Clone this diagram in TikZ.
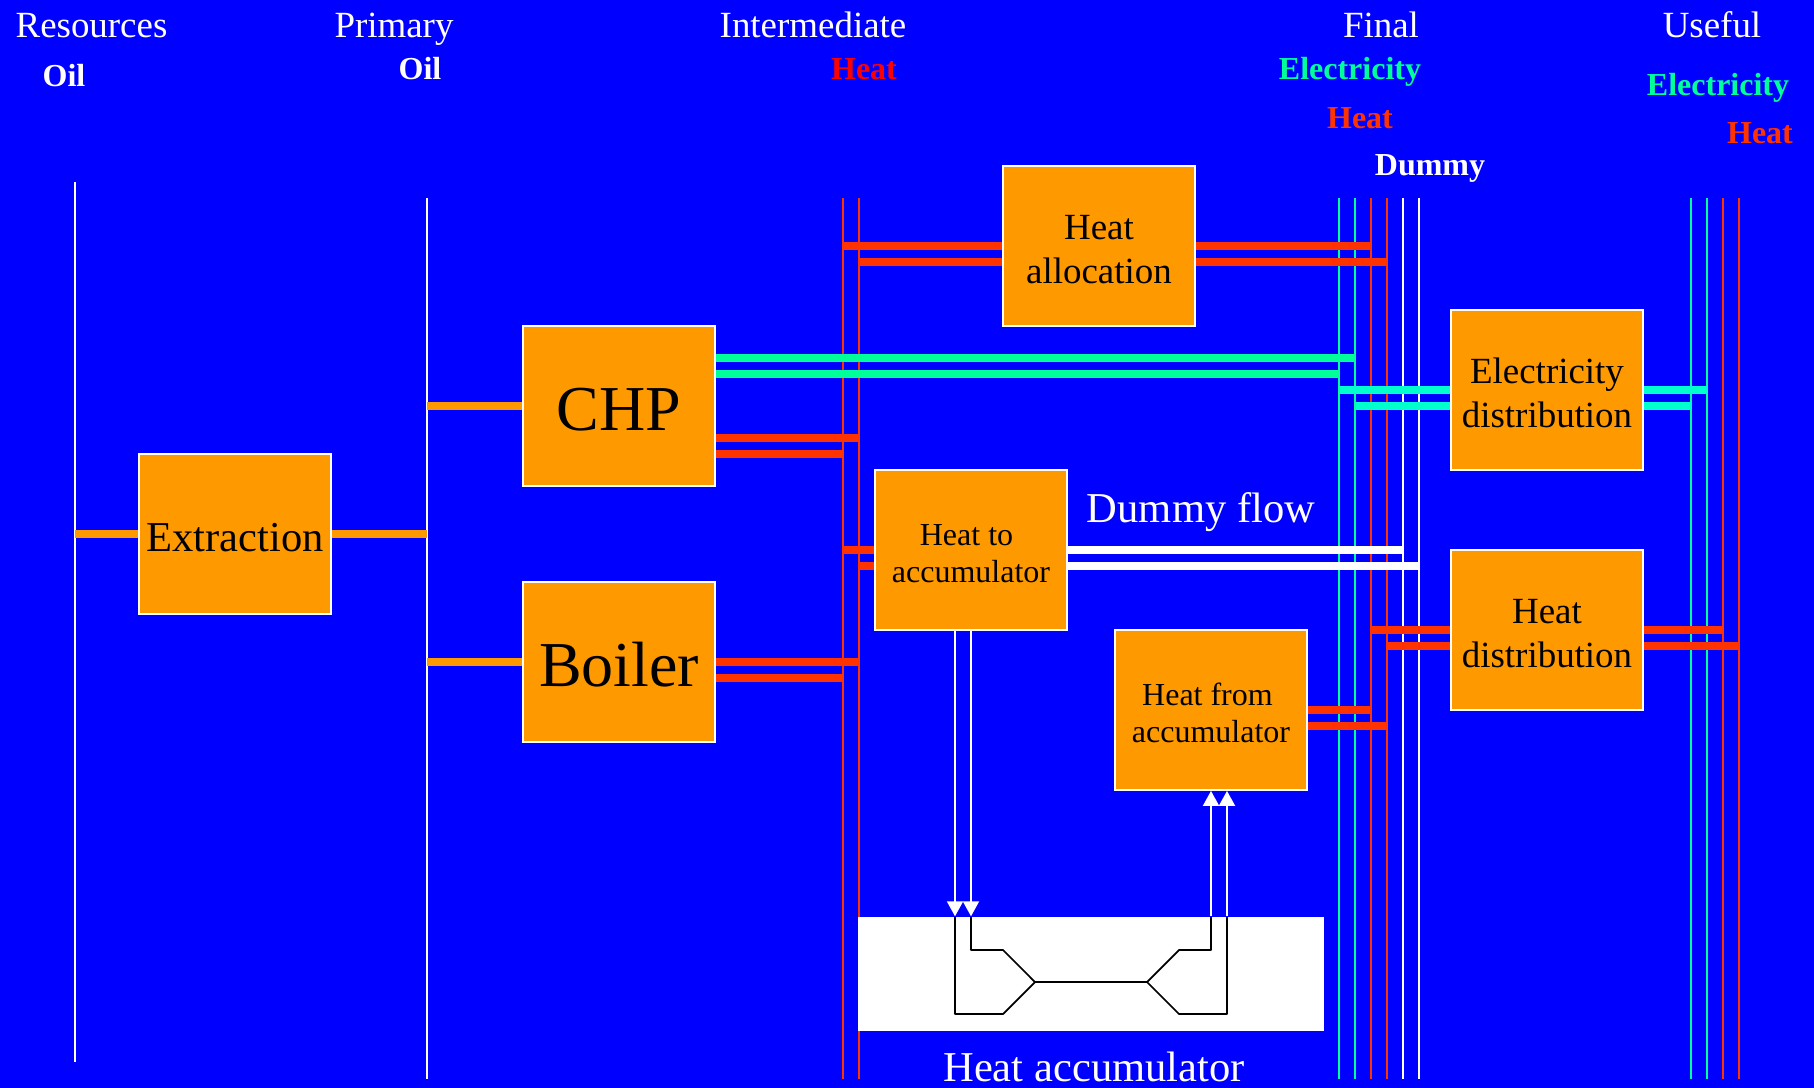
\documentclass[tikz,border=0pt]{standalone}
\usepackage{fontspec}
\setmainfont{Liberation Serif}
\usetikzlibrary{arrows.meta, positioning}
\definecolor{slideblue}{RGB}{0, 0, 255}
\definecolor{boxorange}{RGB}{255, 153, 0}
\definecolor{heatred}{RGB}{255, 51, 0}
\definecolor{elecgreen}{RGB}{0, 255, 153}
\definecolor{eleccyan}{RGB}{0, 255, 204}
\newcommand{\fsize}[2]{\fontsize{#1}{#2}\selectfont}
\newcommand{\topgap}{\rule{0pt}{\dimexpr.68em+1.7pt\relax}}
\tikzset{
  procbox/.style={draw=white, fill=boxorange, line width=0.5pt, text=black,
    minimum width=1.92cm, minimum height=1.6cm, inner sep=0pt, align=center,
    font=\fsize{10.5}{12.5}},
  smallbox/.style={procbox, font=\fsize{9.1}{10.5}},
  headlabel/.style={text=white, inner sep=0pt, anchor=base, font=\fsize{10.5}{12.5}},
  carrier/.style={inner sep=0pt, anchor=base, font=\fsize{9.1}{10.5}\bfseries},
  bigtext/.style={text=white, inner sep=0pt, anchor=base, font=\fsize{12.1}{14}},
  busline/.style={line width=0.55pt},
  flowline/.style={line width=2.3pt},
  storeline/.style={white, line width=0.55pt},
}
\begin{document}
\begin{tikzpicture}[x=0.01cm, y=-0.01cm]
  \useasboundingbox (0,0) rectangle (1814,1087);
  \fill[slideblue] (-10,-10) rectangle (1824,1097);
  %---- Carrier lines ---------------------------------------------------------
  \coordinate (resoil) at (75,182);
  \coordinate (primoil) at (427,198);
  \coordinate (interA) at (843,198);
  \coordinate (interB) at (859,198);
  \coordinate (finelA) at (1339,198);
  \coordinate (finelB) at (1355,198);
  \coordinate (finhtA) at (1371,198);
  \coordinate (finhtB) at (1387,198);
  \coordinate (findmA) at (1403,198);
  \coordinate (findmB) at (1419,198);
  \coordinate (useelA) at (1691,198);
  \coordinate (useelB) at (1707,198);
  \coordinate (usehtA) at (1723,198);
  \coordinate (usehtB) at (1739,198);
  \draw[busline, white] (resoil) -- (75,1062);
  \draw[busline, white] (primoil) -- (427,1079);
  \draw[busline, heatred] (interA) -- (843,1079);
  \draw[busline, heatred] (interB) -- (859,1079);
  \draw[busline, elecgreen] (finelA) -- (1339,1079);
  \draw[busline, elecgreen] (finelB) -- (1355,1079);
  \draw[busline, heatred] (finhtA) -- (1371,1079);
  \draw[busline, heatred] (finhtB) -- (1387,1079);
  \draw[busline, white] (findmA) -- (1403,1079);
  \draw[busline, white] (findmB) -- (1419,1079);
  \draw[busline, elecgreen] (useelA) -- (1691,1079);
  \draw[busline, elecgreen] (useelB) -- (1707,1079);
  \draw[busline, heatred] (usehtA) -- (1723,1079);
  \draw[busline, heatred] (usehtB) -- (1739,1079);
  %---- Process boxes ---------------------------------------------------------
  \node[procbox, font=\fsize{12.1}{14}] (extract) at (235,534) {\topgap Extraction};
  \node[procbox, font=\fsize{18.2}{21}] (chp) at (619,406) {\topgap CHP};
  \node[procbox, font=\fsize{18.2}{21}] (boiler) at (619,662) {\topgap Boiler};
  \node[procbox] (alloc) at (1099,246) {\topgap Heat\\allocation};
  \node[smallbox] (toacc) at (971,550) {\topgap Heat to\hspace*{0.09cm}\\accumulator};
  \node[smallbox] (fromacc) at (1211,710) {\topgap Heat from\hspace*{0.07cm}\\accumulator};
  \node[procbox] (eldist) at (1547,390) {\topgap Electricity\\distribution};
  \node[procbox] (htdist) at (1547,630) {\topgap Heat\\distribution};
  %---- Heat accumulator ------------------------------------------------------
  \node[fill=white, minimum width=4.66cm, minimum height=1.14cm, inner sep=0pt]
    (accum) at (1091,974) {};
  \draw[black, line width=0.5pt, line join=round]
    (955,917)--(955,1014)--(1003,1014)--(1035,982)--(1147,982)
    --(1179,1014)--(1227,1014)--(1227,917);
  \draw[black, line width=0.5pt, line join=round]
    (971,917)--(971,950)--(1003,950)--(1035,982);
  \draw[black, line width=0.5pt, line join=round]
    (1147,982)--(1179,950)--(1211,950)--(1211,917);
  \draw[storeline, -{Triangle[length=0.15cm,width=0.16cm]}]
    (955,0 |- toacc.south) -- (955,0 |- accum.north);
  \draw[storeline, -{Triangle[length=0.15cm,width=0.16cm]}]
    (971,0 |- toacc.south) -- (971,0 |- accum.north);
  \draw[storeline, -{Triangle[length=0.15cm,width=0.16cm]}]
    (1211,0 |- accum.north) -- (1211,0 |- fromacc.south);
  \draw[storeline, -{Triangle[length=0.15cm,width=0.16cm]}]
    (1227,0 |- accum.north) -- (1227,0 |- fromacc.south);
  %---- Oil flows -------------------------------------------------------------
  \draw[flowline, boxorange] (resoil |- extract.west) -- (extract.west);
  \draw[flowline, boxorange] (extract.east) -- (primoil |- extract.east);
  \draw[flowline, boxorange] (primoil |- chp.west) -- (chp.west);
  \draw[flowline, boxorange] (primoil |- boiler.west) -- (boiler.west);
  %---- Heat flows ------------------------------------------------------------
  \draw[flowline, heatred] (chp.east |- 0,438) -- (interB |- 0,438);
  \draw[flowline, heatred] (chp.east |- 0,454) -- (interA |- 0,454);
  \draw[flowline, heatred] (boiler.east |- 0,662) -- (interB |- 0,662);
  \draw[flowline, heatred] (boiler.east |- 0,678) -- (interA |- 0,678);
  \draw[flowline, heatred] (interA |- 0,246) -- (alloc.west |- 0,246);
  \draw[flowline, heatred] (interB |- 0,262) -- (alloc.west |- 0,262);
  \draw[flowline, heatred] (alloc.east |- 0,246) -- (finhtA |- 0,246);
  \draw[flowline, heatred] (alloc.east |- 0,262) -- (finhtB |- 0,262);
  \draw[flowline, heatred] (interA |- 0,550) -- (toacc.west |- 0,550);
  \draw[flowline, heatred] (interB |- 0,566) -- (toacc.west |- 0,566);
  \draw[flowline, heatred] (fromacc.east |- 0,710) -- (finhtA |- 0,710);
  \draw[flowline, heatred] (fromacc.east |- 0,726) -- (finhtB |- 0,726);
  \draw[flowline, heatred] (finhtA |- 0,630) -- (htdist.west |- 0,630);
  \draw[flowline, heatred] (finhtB |- 0,646) -- (htdist.west |- 0,646);
  \draw[flowline, heatred] (htdist.east |- 0,630) -- (usehtA |- 0,630);
  \draw[flowline, heatred] (htdist.east |- 0,646) -- (usehtB |- 0,646);
  %---- Electricity flows -----------------------------------------------------
  \draw[flowline, elecgreen] (chp.east |- 0,358) -- (finelB |- 0,358);
  \draw[flowline, elecgreen] (chp.east |- 0,374) -- (finelA |- 0,374);
  \draw[flowline, eleccyan] (finelA |- 0,390) -- (eldist.west |- 0,390);
  \draw[flowline, eleccyan] (finelB |- 0,406) -- (eldist.west |- 0,406);
  \draw[flowline, eleccyan] (eldist.east |- 0,390) -- (useelB |- 0,390);
  \draw[flowline, eleccyan] (eldist.east |- 0,406) -- (useelA |- 0,406);
  %---- Dummy flows -----------------------------------------------------------
  \draw[flowline, white] (toacc.east |- 0,550) -- (findmA |- 0,550);
  \draw[flowline, white] (toacc.east |- 0,566) -- (findmB |- 0,566);
  %---- Labels ----------------------------------------------------------------
  \node[headlabel] (resources) at (91.5,37) {Resources};
  \node[headlabel] (primary) at (394,37) {Primary};
  \node[headlabel] (intermediate) at (813,37) {Intermediate};
  \node[headlabel] (final) at (1381,37) {Final};
  \node[headlabel] (useful) at (1712,37) {Useful};
  \node[carrier, text=white] (oilres) at (64,86) {Oil};
  \node[carrier, text=white] (oilprim) at (420,79) {Oil};
  \node[carrier, text=red] (heatint) at (864,79) {Heat};
  \node[carrier, text=elecgreen] (elfin) at (1350,79) {Electricity};
  \node[carrier, text=heatred] (htfin) at (1360,128) {Heat};
  \node[carrier, text=white] (dmfin) at (1430,175) {Dummy};
  \node[carrier, text=elecgreen] (eluse) at (1718,95) {Electricity};
  \node[carrier, text=heatred] (htuse) at (1760,143) {Heat};
  \node[bigtext] (dummy) at (1201,522) {Dummy flow};
  \node[bigtext] (acclabel) at (1094,1081) {Heat accumulator};
\end{tikzpicture}
\end{document}
